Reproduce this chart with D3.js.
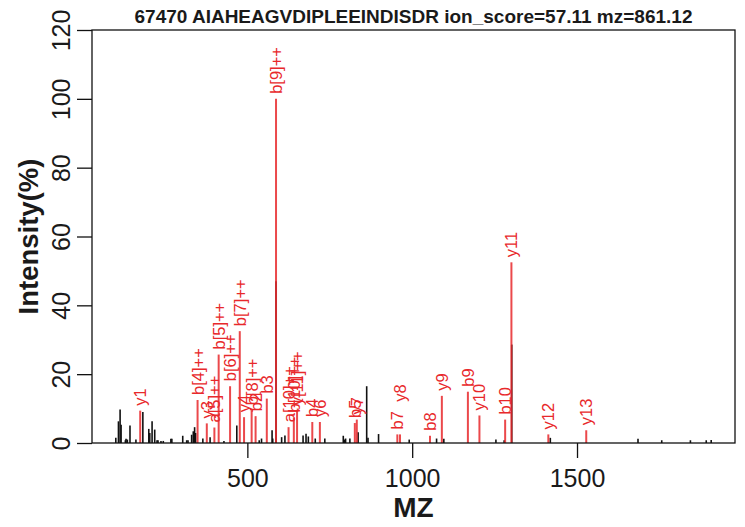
<!DOCTYPE html>
<html>
<head>
<meta charset="utf-8">
<script src="https://cdn.jsdelivr.net/npm/d3@7"></script>
<style>
  html, body { margin: 0; padding: 0; background: #fff; }
  svg { display: block; font-family: "Liberation Sans", Arial, Helvetica, sans-serif; }
</style>
</head>
<body>
<svg id="chart" width="745" height="527"></svg>
<script>
// ---- data ----
const titleText = "67470 AIAHEAGVDIPLEEINDISDR ion_score=57.11 mz=861.12";
const xLabel = "MZ";
const yLabel = "Intensity(%)";
const xTicks = [500, 1000, 1500];
const yTicks = [0, 20, 40, 60, 80, 100, 120];

// unmatched peaks (black)
const peakMz = [101, 109, 114, 117, 130, 132, 136, 144, 162, 183, 201, 204, 211, 219, 226, 229, 238, 245, 268, 271,
  304, 316, 320, 331, 336, 340, 343, 365, 387, 429, 468, 536, 543, 575, 577, 587, 604, 614, 669, 678, 685, 706, 735,
  791, 794, 798, 811, 836, 862, 866, 898, 991, 1074, 1096, 1254, 1279, 1302, 1419, 1685, 1757, 1844, 1892, 1907];
const peakInt = [1.5, 6.3, 9.7, 5.3, 0.8, 1.2, 1.0, 5.1, 1.0, 9.0, 4.1, 2.9, 6.3, 3.9, 0.8, 0.8, 0.6, 0.6, 1.2, 1.2,
  2.1, 0.8, 0.8, 2.4, 3.4, 4.6, 2.9, 1.3, 1.7, 0.6, 5.1, 0.8, 1.3, 3.7, 1.3, 47, 1.7, 2.2, 2.2, 2.7, 1.9, 1.3, 1.3,
  2.1, 1.0, 1.3, 1.3, 3.1, 16.5, 1.5, 2.6, 1.0, 1.3, 1.2, 1.0, 0.8, 28.6, 1.5, 1.2, 0.8, 0.8, 0.8, 0.9];

// matched fragment ions (red)
const ionMz = [175, 349, 377, 400, 413, 447.6, 477, 490, 513, 525, 559, 587, 625, 641, 650.8, 697, 720,
  826, 832, 955, 963, 1054, 1090, 1169, 1204, 1282, 1301, 1413, 1528];
const ionInt = [9.4, 12.5, 5.7, 4.5, 25.7, 16.5, 32.5, 7.5, 9.5, 7.8, 12.9, 100, 4.6, 7.4, 9.5, 6.1, 6.1,
  5.8, 6.8, 2.5, 2.5, 2.1, 13.7, 14.9, 8.0, 6.8, 52.5, 2.5, 3.7];
const ionLabel = ["y1", "b[4]++", "y3", "a[5]++", "b[5]++", "b[6]++", "b[7]++", "y4", "b[8]++", "b2", "b3", "b[9]++",
  "a[10]++", "b[10]++", "y[11]++", "b4", "y6", "b5", "y7", "b7", "y8", "b8", "y9", "b9", "y10", "b10", "y11", "y12", "y13"];
// label anchor intensity where the label sits above its peak
const ionLabelAt = [null, null, null, null, null, null, null, null, null, null, null, null,
  null, null, null, null, null, null, null, null, 10.5, null, null, null, null, null, null, null, null];

// ---- drawing ----
const W = 745, H = 527;
const plot = { left: 92, right: 735, top: 30, bottom: 443 };
const RED = "#e8282b";
const svg = d3.select("#chart");

const allMz = peakMz.concat(ionMz);
const lo = d3.min(allMz), hi = d3.max(allMz), pad = (hi - lo) * 0.04;
const x = d3.scaleLinear().domain([lo - pad, hi + pad]).range([plot.left, plot.right]);
const y = d3.scaleLinear().domain([0, 120]).range([plot.bottom, plot.top]);

// black peaks
svg.append("g").selectAll("line").data(peakMz.map((m, i) => ({ m, v: peakInt[i] })))
  .join("line")
  .attr("x1", d => x(d.m)).attr("x2", d => x(d.m))
  .attr("y1", y(0)).attr("y2", d => y(d.v))
  .attr("stroke", "#111").attr("stroke-width", 1.6);

// red peaks
const ions = ionMz.map((m, i) => ({ m, v: ionInt[i], lab: ionLabel[i], at: ionLabelAt[i] }));
svg.append("g").selectAll("line").data(ions)
  .join("line")
  .attr("x1", d => x(d.m)).attr("x2", d => x(d.m))
  .attr("y1", y(0)).attr("y2", d => y(d.v))
  .attr("stroke", RED).attr("stroke-width", 2).attr("stroke-opacity", 0.85);

svg.append("g").selectAll("text").data(ions)
  .join("text")
  .attr("transform", d => `translate(${x(d.m)},${y(d.at == null ? d.v : d.at) - 5}) rotate(-90)`)
  .attr("text-anchor", "start")
  .attr("dominant-baseline", "central")
  .attr("fill", RED)
  .attr("font-size", 16.5)
  .text(d => d.lab);

// box
svg.append("rect")
  .attr("x", plot.left).attr("y", plot.top)
  .attr("width", plot.right - plot.left).attr("height", plot.bottom - plot.top)
  .attr("fill", "none").attr("stroke", "#111").attr("stroke-width", 1.3);

// x axis
const xAxis = svg.append("g").attr("transform", `translate(0,${plot.bottom})`)
  .call(d3.axisBottom(x).tickValues(xTicks).tickSize(15).tickSizeOuter(0).tickPadding(11).tickFormat(d3.format("d")));
xAxis.select(".domain").remove();
xAxis.selectAll("line").attr("stroke", "#111").attr("stroke-width", 1.3);
xAxis.selectAll("text").attr("font-size", 25).attr("fill", "#1a1a1a")
  .attr("font-family", "Liberation Sans, Arial, sans-serif");

// y axis
const yAxis = svg.append("g").attr("transform", `translate(${plot.left},0)`)
  .call(d3.axisLeft(y).tickValues(yTicks).tickSize(15).tickSizeOuter(0).tickFormat(d3.format("d")));
yAxis.select(".domain").remove();
yAxis.selectAll("line").attr("stroke", "#111").attr("stroke-width", 1.3);
yAxis.selectAll("text")
  .attr("x", null).attr("dy", null)
  .attr("transform", "translate(-22,0) rotate(-90)")
  .attr("text-anchor", "middle")
  .attr("font-size", 25).attr("fill", "#1a1a1a")
  .attr("font-family", "Liberation Sans, Arial, sans-serif");

// titles
svg.append("text")
  .attr("x", (plot.left + plot.right) / 2).attr("y", 23)
  .attr("text-anchor", "middle").attr("font-weight", "bold").attr("font-size", 19)
  .attr("fill", "#1a1a1a").text(titleText);

svg.append("text")
  .attr("x", (plot.left + plot.right) / 2).attr("y", 517)
  .attr("text-anchor", "middle").attr("font-weight", "bold").attr("font-size", 28)
  .attr("fill", "#1a1a1a").text(xLabel);

svg.append("text")
  .attr("transform", `translate(38,${(plot.top + plot.bottom) / 2}) rotate(-90)`)
  .attr("text-anchor", "middle").attr("font-weight", "bold").attr("font-size", 27.5)
  .attr("fill", "#1a1a1a").text(yLabel);
</script>
</body>
</html>
